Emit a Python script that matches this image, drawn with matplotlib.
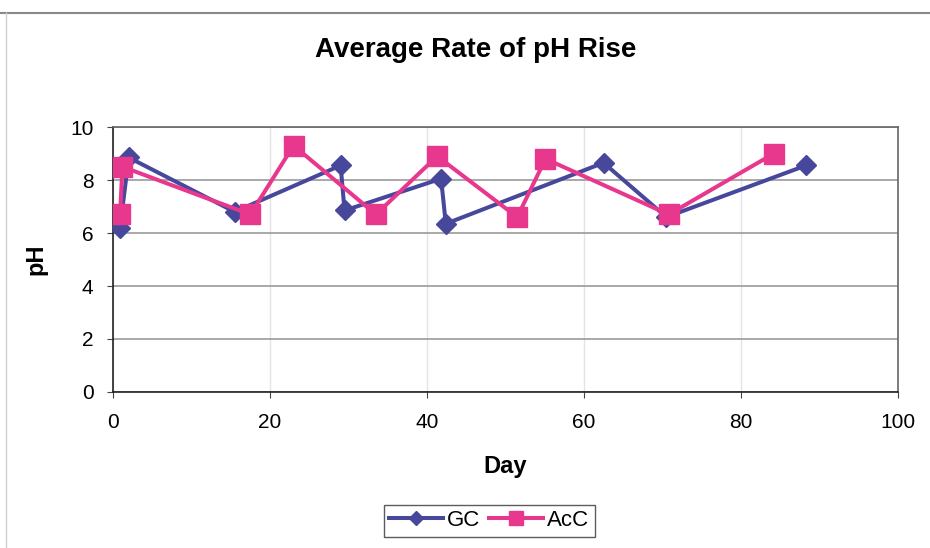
import matplotlib
matplotlib.use("Agg")
import matplotlib.pyplot as plt
from matplotlib.lines import Line2D

plt.rcParams['font.family'] = ['Liberation Sans', 'DejaVu Sans']

# GC series (day, pH)
gc_day = [0.9, 2.0, 15.5, 29.0, 29.5, 41.8, 42.4, 62.5, 70.5, 88.3]
gc_ph = [6.2, 8.85, 6.8, 8.55, 6.85, 8.05, 6.35, 8.65, 6.6, 8.55]

# AcC series (day, pH)
acc_day = [0.9, 1.2, 17.5, 23.0, 33.5, 41.3, 51.5, 55.1, 70.8, 84.2]
acc_ph = [6.7, 8.5, 6.7, 9.3, 6.7, 8.9, 6.6, 8.8, 6.7, 9.0]

gc_color = '#47489C'
acc_color = '#E8388E'

fig = plt.figure(figsize=(9.3, 5.48), dpi=100)
fig.patch.set_facecolor('white')

# outer chart frame (top and left edges of the scanned chart box)
fig.add_artist(Line2D([0.0, 1.0], [0.976, 0.976], transform=fig.transFigure,
                      color='#8a8a8a', linewidth=1.5))
fig.add_artist(Line2D([0.006, 0.006], [0.0, 0.976], transform=fig.transFigure,
                      color='#cfcfcf', linewidth=1.0))

ax = fig.add_axes([0.1215, 0.2847, 0.844, 0.4835])

ax.plot(gc_day, gc_ph, color=gc_color, linewidth=2.9, marker='D', markersize=10,
        markeredgecolor=gc_color, label='GC', zorder=3)
ax.plot(acc_day, acc_ph, color=acc_color, linewidth=2.9, marker='s', markersize=14,
        markeredgecolor=acc_color, label='AcC', zorder=4)

ax.set_xlim(0, 100)
ax.set_ylim(0, 10)
ax.set_xticks([0, 20, 40, 60, 80, 100])
ax.set_yticks([0, 2, 4, 6, 8, 10])
ax.tick_params(axis='y', labelsize=15, length=4, pad=10, color='#444444')
ax.tick_params(axis='x', labelsize=15, length=4, pad=11, color='#444444')
ax.grid(axis='y', color='#9a9a9a', linewidth=1.2)
ax.grid(axis='x', color='#e4e4e4', linewidth=1.0)
ax.set_axisbelow(True)
for s in ax.spines.values():
    s.set_color('#666666')
    s.set_linewidth(1.2)
ax.spines['left'].set_color('#222222')
ax.spines['bottom'].set_color('#222222')

ax.set_xlabel('Day', fontsize=17, fontweight='bold', labelpad=17)
ax.set_ylabel('pH', fontsize=17, fontweight='bold', labelpad=16)
fig.text(0.512, 0.908, 'Average Rate of pH Rise', ha='center', va='center',
         fontsize=20, fontweight='bold')

leg = fig.legend(loc='center', bbox_to_anchor=(0.526, 0.05), ncol=2, fontsize=16,
                 frameon=True, fancybox=False, edgecolor='#333333',
                 handlelength=2.4, columnspacing=0.4, handletextpad=0.2,
                 borderpad=0.25, borderaxespad=0, markerscale=0.75)
leg.get_frame().set_linewidth(1.0)

fig.savefig('out.png', dpi=100)
